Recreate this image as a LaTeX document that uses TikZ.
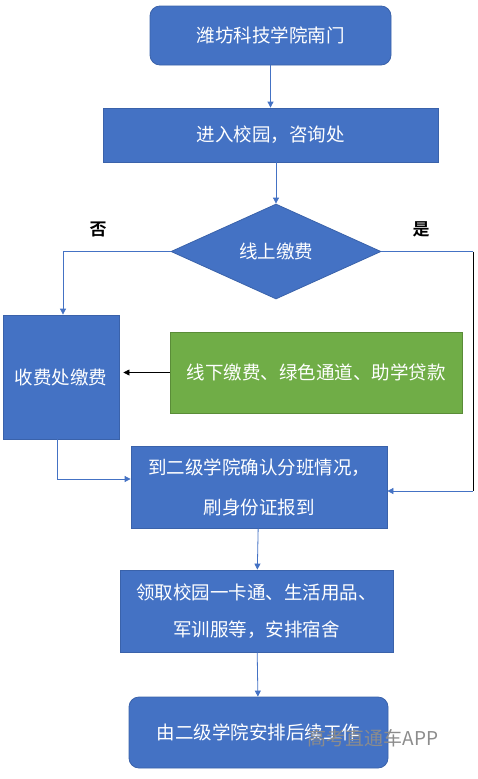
\documentclass[tikz,border=0pt]{standalone}
\usepackage{fontspec}
\usetikzlibrary{arrows.meta, shapes.geometric}
\newfontfamily\cjk{Noto Sans CJK SC}
\newfontfamily\cjkbold{Noto Sans CJK SC Bold}
\definecolor{boxblue}{HTML}{4472C4}
\definecolor{edgeblue}{HTML}{3A62AA}
\definecolor{boxgreen}{HTML}{70AD47}
\definecolor{edgegreen}{HTML}{5A8C38}
\definecolor{markgray}{HTML}{8C8C8C}

\begin{document}
\begin{tikzpicture}[
    x=1pt, y=-1pt,
    step box/.style = {
        draw=edgeblue,
        fill=boxblue,
        text=white,
        line width=0.8pt,
        inner sep=0pt,
        font=\cjk\fontsize{18.5}{22}\selectfont
    },
    end box/.style = {
        step box,
        rounded corners=10pt
    },
    choice/.style = {
        step box,
        diamond,
        aspect=2.2
    },
    green box/.style = {
        step box,
        draw=edgegreen,
        fill=boxgreen
    },
    link/.style={
        draw=boxblue,
        line width=0.8pt,
        -{Triangle[length=6pt,width=6pt]}
    },
    plain/.style={
        draw=boxblue,
        line width=0.8pt
    },
    answer/.style={
        font=\cjkbold\fontsize{17}{20}\selectfont
    }
]
  \useasboundingbox (0,0) rectangle (477,779);

  \node[end box, minimum width=241pt, minimum height=59pt] (gate) at (270.5,35.5) {潍坊科技学院南门};
  \node[step box, minimum width=335pt, minimum height=54pt] (enter) at (270.5,135) {进入校园，咨询处};
  \node[choice, minimum width=210pt, minimum height=95pt] (online) at (276,251.5) {线上缴费};
  \node[step box, minimum width=116pt, minimum height=124pt] (cashier) at (61,377) {收费处缴费};
  \node[green box, minimum width=292pt, minimum height=81pt] (offline) at (316,372.5) {线下缴费、绿色通道、助学贷款};
  \node[step box, minimum width=256pt, minimum height=82pt, align=center,
        font=\cjk\fontsize{18.5}{40}\selectfont] (report) at (259,487)
        {到二级学院确认分班情况，\\刷身份证报到};
  \node[step box, minimum width=273pt, minimum height=82pt, align=center,
        font=\cjk\fontsize{18.5}{37}\selectfont] (collect) at (256.5,611)
        {领取校园一卡通、生活用品、\\军训服等，安排宿舍};
  \node[end box, minimum width=259pt, minimum height=71pt] (final) at (258.5,732.5) {由二级学院安排后续工作};
  \node[text=markgray, font=\cjk\fontsize{19}{22}\selectfont] (mark) at (373,738) {高考直通车APP};

  \node[answer] (no) at (98,229) {否};
  \node[answer] (yes) at (421,229) {是};

  \coordinate (yestop) at (473,251.5);
  \coordinate (yesbot) at (473,491);

  \draw[link] (gate) -- (enter);
  \draw[link] (online.north |- enter.south) -- (online.north);
  \draw[link] (online.west) -| ([xshift=2pt]cashier.north);
  \draw[plain] (online.east) -- (yestop);
  \draw[line width=0.8pt] (yestop) -- (yesbot);
  \draw[link] (yesbot) -- (report.east |- yesbot);
  \draw[-{Triangle[length=6pt,width=6pt]}, line width=0.6pt, shorten >=4pt] (offline.west) -- (cashier.east |- offline.west);
  \draw[link] ([xshift=-4pt,yshift=4pt]cashier.south) |- ([yshift=8pt]report.west);
  \draw[link] (report) -- (collect);
  \draw[link] (collect) -- (final);
\end{tikzpicture}
\end{document}
